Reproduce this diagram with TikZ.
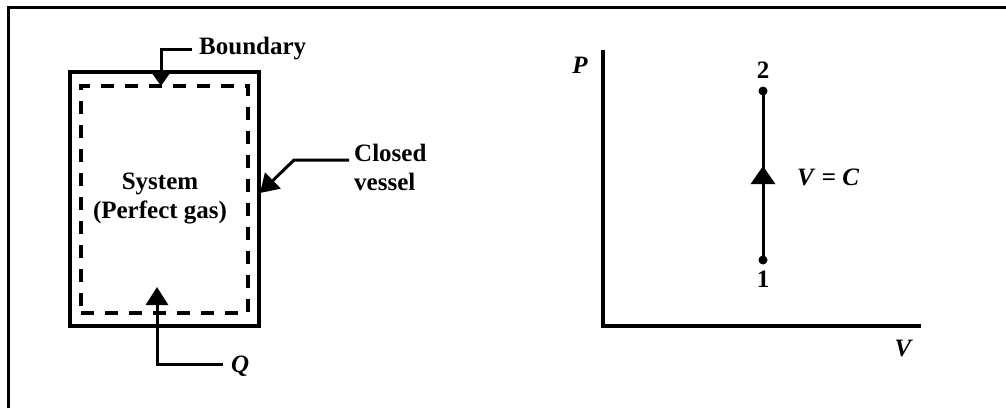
\documentclass[tikz,border=0pt]{standalone}
\usepackage{fontspec}
\setmainfont{Liberation Serif}
\usetikzlibrary{arrows.meta}
\begin{document}
\begin{tikzpicture}[x=1pt,y=-1pt,
  lbl/.style={font=\fontsize{25}{29}\selectfont\bfseries, inner sep=0pt},
  ilbl/.style={font=\fontsize{25}{29}\selectfont\bfseries\itshape, inner sep=0pt},
  frame/.style={line width=3pt},
  vesselbox/.style={draw, line width=3.5pt, minimum width=189pt, minimum height=254pt, inner sep=0pt},
  bndbox/.style={draw, line width=3.2pt, dash pattern=on 13pt off 11pt, minimum width=167pt, minimum height=227pt, inner sep=0pt},
  leader/.style={line width=3pt},
  axis/.style={line width=3.5pt},
  dot/.style={circle, fill, inner sep=0pt, minimum size=9pt},
  tipA/.style={-{Triangle[length=12pt,width=16pt]}},
  tipB/.style={-{Triangle[length=18pt,width=22pt]}},
  tipC/.style={-{Triangle[length=18pt,width=24pt]}}
]
\useasboundingbox (0,0) rectangle (1006,408);
% outer frame (top and left edges)
\draw[frame] (8,408) -- (8,7) -- (1006,7);

% vessel and boundary
\node[vesselbox] (vessel) at (164.5,199) {};
\node[bndbox] (bnd) at (164.5,199.5) {};
\node[lbl, align=center] (sys) at (160,198) {System\\(Perfect gas)};

% Boundary label
\node[lbl, anchor=west] (boundary) at (199,49) {Boundary};
\coordinate (b0) at (192,49);
\coordinate (b1) at (161,49);
\coordinate (b2) at (161,86);
\draw[leader, tipA] (b0) -- (b1) -- (b2);

% Closed vessel label
\node[lbl, anchor=west, align=left] (closed) at (354,167) {Closed\\vessel};
\coordinate (c0) at (349,160);
\coordinate (c1) at (294,160);
\coordinate (c2) at (260,193);
\draw[leader, tipB] (c0) -- (c1) -- (c2);

% Q label
\node[ilbl, anchor=west] (q) at (231,366) {Q};
\coordinate (q0) at (223,364);
\coordinate (q1) at (157,364);
\coordinate (q2) at (157,287);
\draw[leader, tipB] (q0) -- (q1) -- (q2);

% P-V diagram
\coordinate (o) at (603,326);
\coordinate (ptop) at (603,50);
\coordinate (vend) at (921,326);
\draw[axis] (ptop) -- (o) -- (vend);
\node[ilbl] (P) at (580,65) {P};
\node[ilbl] (V) at (903,348) {V};

\node[dot] (p1) at (763,260) {};
\node[dot] (p2) at (763,91) {};
\node[lbl] (n1) at (763,279) {1};
\node[lbl] (n2) at (763,70) {2};
\coordinate (mid) at (763,166);
\draw[leader] (p1.center) -- (p2.center);
\draw[leader, tipC] (p1.center) -- (mid);
\node[lbl, anchor=west] (vc) at (797,177) {\itshape V\/ \upshape=\itshape\ C};
\end{tikzpicture}
\end{document}
